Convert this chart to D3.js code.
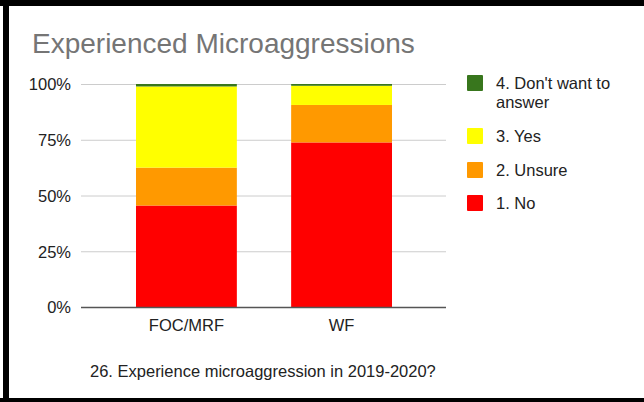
<!DOCTYPE html>
<head>
<meta charset="utf-8">
<title>Experienced Microaggressions</title>
<script src="https://d3js.org/d3.v7.min.js"></script>
<style>
  body { margin: 0; background: #fff; }
  text { font-family: "Liberation Sans", Arial, sans-serif; }
</style>
</head>
<body>
<div id="chart"></div>
<script>

// data (share of answers, in %)
var groups = ["FOC/MRF", "WF"];
var answers = ["1. No", "2. Unsure", "3. Yes", "4. Don't want to answer"];
var no = [45.5, 73.8];
var unsure = [17.0, 16.8];
var yes = [36.4, 8.6];
var noAnswer = [1.1, 0.8];
var colors = ["#ff0000", "#ff9900", "#ffff00", "#38761d"];
var yTicks = [0, 25, 50, 75, 100];

var W = 644, H = 402;

var svg = d3.select("#chart")
  .append("svg")
    .attr("width", W)
    .attr("height", H);

// frame
svg.append("rect").attr("x", 0).attr("y", 0).attr("width", W).attr("height", H).attr("fill", "#fff");
svg.append("rect").attr("x", 0).attr("y", 0).attr("width", W).attr("height", 6).attr("fill", "#000");
svg.append("rect").attr("x", 3).attr("y", 0).attr("width", 6).attr("height", H).attr("fill", "#000");
svg.append("rect").attr("x", 0).attr("y", 398).attr("width", W).attr("height", 4).attr("fill", "#000");

var rows = groups.map(function(g, i) {
  return { group: g, "1. No": no[i], "2. Unsure": unsure[i], "3. Yes": yes[i], "4. Don't want to answer": noAnswer[i] };
});

var stacked = d3.stack().keys(answers)(rows);

var x = d3.scaleBand()
  .domain(groups)
  .range([136, 392])
  .paddingInner(0.35)
  .paddingOuter(0);

var y = d3.scaleLinear()
  .domain([0, 100])
  .range([307, 84]);

var plotLeft = 81, plotRight = 446;

// title
svg.append("text")
  .attr("x", 32)
  .attr("y", 53)
  .style("font-size", "28px")
  .style("fill", "#757575")
  .text("Experienced Microaggressions");

// grid lines
svg.selectAll(".grid")
  .data(yTicks.filter(function(d) { return d > 0; }))
  .enter()
  .append("line")
    .attr("x1", plotLeft)
    .attr("x2", plotRight)
    .attr("y1", function(d) { return y(d) + 0.5; })
    .attr("y2", function(d) { return y(d) + 0.5; })
    .style("stroke", "#cccccc")
    .style("stroke-width", 1);

// y axis
var yAxis = svg.append("g")
  .attr("transform", "translate(" + (plotLeft - 10) + ",0)")
  .call(d3.axisLeft(y).tickValues(yTicks).tickSize(0).tickPadding(0)
    .tickFormat(function(d) { return d + "%"; }));
yAxis.select(".domain").remove();
yAxis.selectAll("text")
  .style("font-size", "16.5px")
  .style("fill", "#222")
  .attr("dy", "0.35em");

// bars
svg.selectAll(".layer")
  .data(stacked)
  .enter()
  .append("g")
    .attr("fill", function(d, i) { return colors[i]; })
  .selectAll("rect")
  .data(function(d) { return d; })
  .enter()
  .append("rect")
    .attr("x", function(d) { return x(d.data.group); })
    .attr("y", function(d) { return y(d[1]); })
    .attr("width", x.bandwidth())
    .attr("height", function(d) { return y(d[0]) - y(d[1]); });

// baseline
svg.append("line")
  .attr("x1", plotLeft)
  .attr("x2", plotRight)
  .attr("y1", y(0) + 0.5)
  .attr("y2", y(0) + 0.5)
  .style("stroke", "#555")
  .style("stroke-width", 1.5);

// x axis labels
var xAxis = svg.append("g")
  .attr("transform", "translate(0," + y(0) + ")")
  .call(d3.axisBottom(x).tickSize(0).tickPadding(12));
xAxis.select(".domain").remove();
xAxis.selectAll("text")
  .style("font-size", "16.5px")
  .style("fill", "#222");

// x axis title
svg.append("text")
  .attr("x", 90)
  .attr("y", 377)
  .style("font-size", "16.5px")
  .style("fill", "#222")
  .text("26. Experience microaggression in 2019-2020?");

// legend (top entry first)
var legendItems = [
  { lines: ["4. Don't want to", "answer"], color: colors[3], top: 75 },
  { lines: ["3. Yes"], color: colors[2], top: 128 },
  { lines: ["2. Unsure"], color: colors[1], top: 162 },
  { lines: ["1. No"], color: colors[0], top: 195 }
];

var legend = svg.selectAll(".legend")
  .data(legendItems)
  .enter()
  .append("g")
    .attr("transform", function(d) { return "translate(467," + d.top + ")"; });

legend.append("rect")
  .attr("width", 16)
  .attr("height", 16)
  .attr("rx", 1)
  .attr("fill", function(d) { return d.color; });

legend.each(function(d) {
  var t = d3.select(this).append("text")
    .attr("x", 29)
    .attr("y", 14)
    .style("font-size", "16.5px")
    .style("fill", "#222");
  d.lines.forEach(function(l, i) {
    t.append("tspan").attr("x", 29).attr("dy", i === 0 ? 0 : 19).text(l);
  });
});

</script>
</body>
